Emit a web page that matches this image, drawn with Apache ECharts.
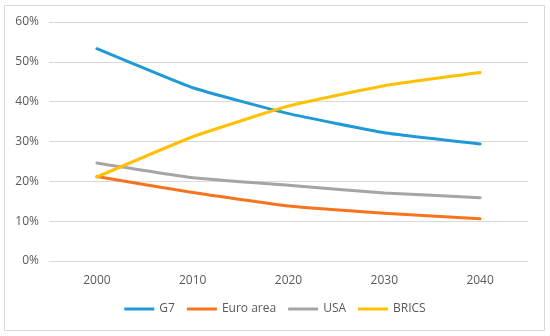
<!DOCTYPE html>
<html><head><meta charset="utf-8">
<script src="https://cdn.jsdelivr.net/npm/echarts@6/dist/echarts.min.js"></script>
<style>html,body{margin:0;padding:0;background:#fff}#c{width:550px;height:336px}</style>
</head><body><div id="c"></div>
<script>
const categories = ['2000','2010','2020','2030','2040'];
const g7 = [53.3, 43.5, 37.0, 32.2, 29.4];
const euroArea = [21.2, 17.2, 13.8, 12.0, 10.6];
const usa = [24.6, 20.9, 19.0, 17.1, 15.9];
const brics = [21.1, 31.2, 38.9, 44.0, 47.3];
const seriesNames = ['G7','Euro area','USA','BRICS'];
const colors = ['#1f9ad7','#f7741e','#a5a5a5','#ffc000'];

const chart = echarts.init(document.getElementById('c'), null, {renderer:'canvas'});
const mk = (name, data, color) => ({
  name, type:'line', data, smooth:0.12, symbol:'none',
  lineStyle:{width:3, color, cap:'round', join:'round'}, itemStyle:{color}
});
chart.setOption({
  animation:false,
  graphic:[{type:'rect', shape:{x:4.5,y:5.5,width:540,height:325}, style:{fill:'none', stroke:'#d9d9d9', lineWidth:1}}],
  grid:{left:49, right:22, top:22, bottom:75},
  xAxis:{type:'category', data:categories, boundaryGap:true,
    axisLine:{show:true, lineStyle:{color:'#d9d9d9'}}, axisTick:{show:false},
    axisLabel:{color:'#595959', fontSize:12, margin:14, fontFamily:'Open Sans'}},
  yAxis:{type:'value', min:0, max:60, interval:10,
    axisLabel:{formatter:'{value}%', color:'#595959', fontSize:12, margin:10, fontFamily:'Open Sans'},
    axisLine:{show:false}, axisTick:{show:false},
    splitLine:{lineStyle:{color:'#d9d9d9', width:1}}},
  legend:{bottom:16, left:'center', itemWidth:30, itemHeight:3, itemGap:12, icon:'rect',
    textStyle:{color:'#595959', fontSize:12, fontFamily:'Open Sans'}, data:seriesNames},
  series:[mk(seriesNames[0], g7, colors[0]), mk(seriesNames[1], euroArea, colors[1]),
          mk(seriesNames[2], usa, colors[2]), mk(seriesNames[3], brics, colors[3])]
});
</script></body></html>
